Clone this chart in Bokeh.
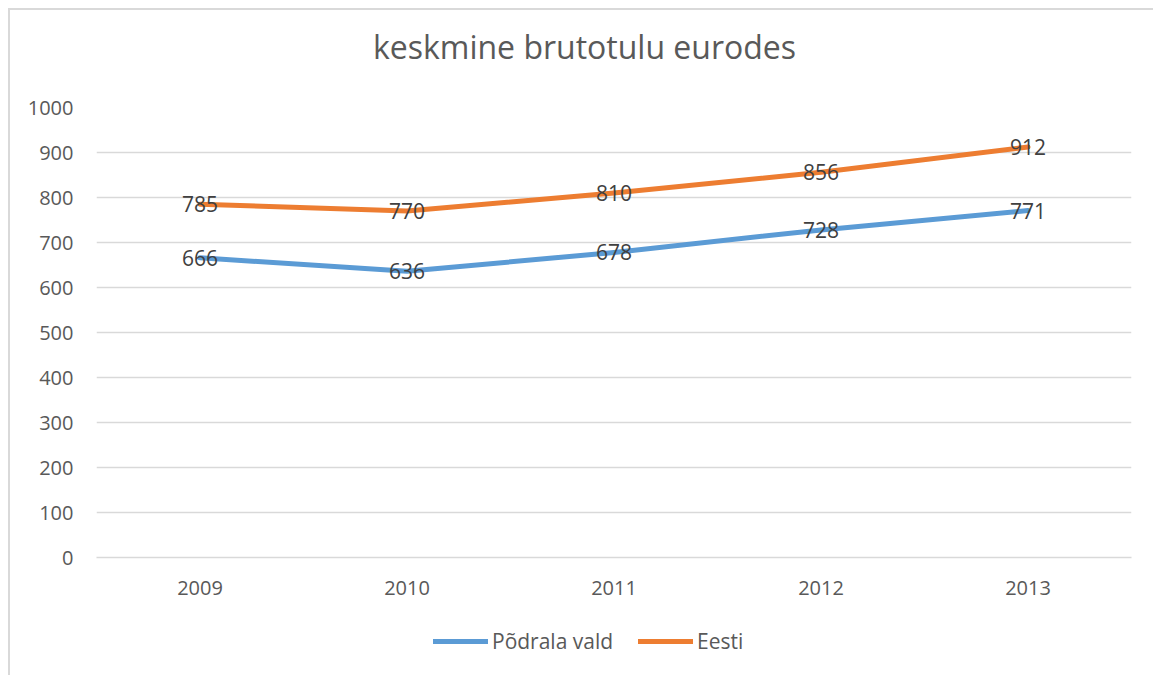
from bokeh.plotting import figure
from bokeh.layouts import column
from bokeh.models import (Range1d, FactorRange, FixedTicker, Legend, LegendItem,
                          ColumnDataSource, Label)
from bokeh.core.properties import value
from bokeh.embed import file_html
from bokeh.resources import INLINE

years = ["2009", "2010", "2011", "2012", "2013"]
podrala = [666, 636, 678, 728, 771]
eesti = [785, 770, 810, 856, 912]
y_ticks = [0, 100, 200, 300, 400, 500, 600, 700, 800, 900, 1000]
title_text = "keskmine brutotulu eurodes"
series_names = ["Põdrala vald", "Eesti"]

FONT = "Open Sans"
BLUE = "#5B9BD5"
ORANGE = "#ED7D31"
GRAY = "#595959"
W = 1145
LW = 5


def bare(height):
    f = figure(width=W, height=height, x_range=Range1d(0, 1), y_range=Range1d(0, 1),
               output_backend="svg", toolbar_location=None,
               x_axis_location=None, y_axis_location=None,
               min_border=0, min_border_left=0, min_border_right=0,
               min_border_top=0, min_border_bottom=0)
    f.outline_line_color = None
    f.background_fill_color = "white"
    f.border_fill_color = "white"
    f.xgrid.visible = False
    f.ygrid.visible = False
    return f


# ---- title strip
p_title = bare(77)
p_title.add_layout(Label(x=0.4715, y=0.532, text=title_text, text_align="center",
                         text_baseline="alphabetic", text_font=FONT,
                         text_font_size="32px", text_color=GRAY))

# ---- main plot
p = figure(width=W, height=528, x_range=FactorRange(factors=years, range_padding=0),
           y_range=Range1d(0, 1000), output_backend="svg", toolbar_location=None,
           min_border_left=86, min_border_right=24, min_border_top=20, min_border_bottom=58)
p.outline_line_color = None
p.background_fill_color = "white"
p.border_fill_color = "white"

src = ColumnDataSource(dict(x=years, p=podrala, e=eesti,
                            pl=[str(v) for v in podrala], el=[str(v) for v in eesti]))

r1 = p.line("x", "p", source=src, line_color=BLUE, line_width=LW,
            line_cap="round", line_join="round")
r2 = p.line("x", "e", source=src, line_color=ORANGE, line_width=LW,
            line_cap="round", line_join="round")

for col, lab in (("p", "pl"), ("e", "el")):
    p.text("x", col, text=lab, source=src, text_align="center", text_baseline="middle",
           text_font=value(FONT), text_font_size="21px", text_color="#404040")

p.yaxis.ticker = FixedTicker(ticks=y_ticks)
for ax in (p.xaxis[0], p.yaxis[0]):
    ax.axis_line_color = None
    ax.major_tick_line_color = None
    ax.minor_tick_line_color = None
    ax.major_tick_out = 0
    ax.major_tick_in = 0
    ax.major_label_text_font = FONT
    ax.major_label_text_font_size = "20px"
    ax.major_label_text_color = GRAY
p.xaxis.axis_line_color = "#d9d9d9"
p.xaxis.axis_line_width = 1.5
p.yaxis.major_label_standoff = 23
p.xaxis.major_label_standoff = 23

p.xgrid.grid_line_color = None
p.ygrid.grid_line_color = "#d9d9d9"
p.ygrid.grid_line_width = 1.5

# ---- legend strip (proxy renderers lie outside the strip's visible range)
p_leg = bare(62)
idx = list(range(len(years)))
k1 = p_leg.line(x=idx, y=podrala, line_color=BLUE, line_width=LW, line_cap="round")
k2 = p_leg.line(x=idx, y=eesti, line_color=ORANGE, line_width=LW, line_cap="round")
legend = Legend(items=[LegendItem(label=series_names[0], renderers=[k1]),
                       LegendItem(label=series_names[1], renderers=[k2])],
                orientation="horizontal", location=(337, 22),
                label_text_font=FONT, label_text_font_size="21px", label_text_color=GRAY,
                glyph_width=55, glyph_height=20, label_standoff=4, spacing=25,
                padding=0, margin=0, border_line_color=None, background_fill_alpha=0)
p_leg.add_layout(legend, "center")

layout = column(p_title, p, p_leg, spacing=0)
layout.styles = {"border-left": "2px solid #d9d9d9", "border-top": "2px solid #d9d9d9",
                 "position": "relative", "left": "8px", "top": "8px"}

open("out.html", "w").write(file_html(layout, INLINE))
